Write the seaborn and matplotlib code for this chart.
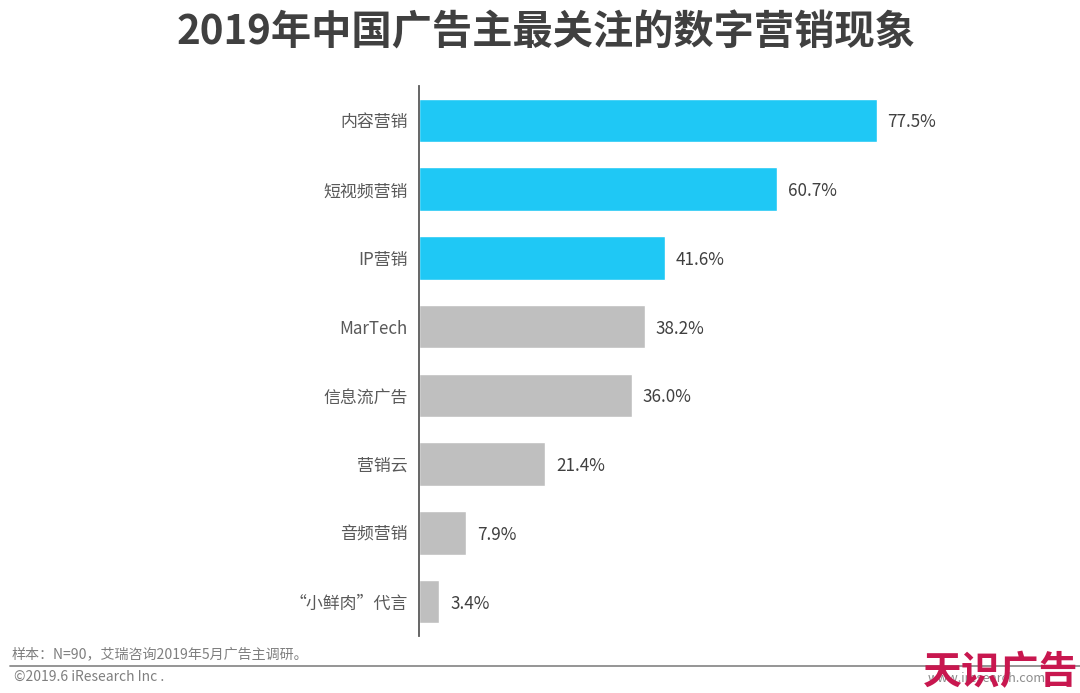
import matplotlib
matplotlib.use('Agg')
import matplotlib.pyplot as plt
import seaborn as sns
import pandas as pd

categorias = ['内容营销', '短视频营销', 'IP营销', 'MarTech', '信息流广告', '营销云', '音频营销', '“小鲜肉”代言']
valores = [77.5, 60.7, 41.6, 38.2, 36.0, 21.4, 7.9, 3.4]
rotulos = ['77.5%', '60.7%', '41.6%', '38.2%', '36.0%', '21.4%', '7.9%', '3.4%']
cores = ['#1FC8F5', '#1FC8F5', '#1FC8F5', '#BFBFBF', '#BFBFBF', '#BFBFBF', '#BFBFBF', '#BFBFBF']

titulo = '2019年中国广告主最关注的数字营销现象'
nota = '样本：N=90，艾瑞咨询2019年5月广告主调研。'
copyright_txt = '©2019.6 iResearch Inc .'

sns.set_theme(style='white')
plt.rcParams['font.family'] = ['Noto Sans CJK SC', 'DejaVu Sans']

W, H = 1080, 693
df = pd.DataFrame({'categoria': categorias, 'valor': valores})

fig = plt.figure(figsize=(W / 100, H / 100), dpi=100)
ax = fig.add_axes([419 / W, 1 - 636 / H, 581 / W, 550 / H])

sns.barplot(data=df, x='valor', y='categoria', hue='categoria', palette=cores,
            legend=False, width=0.635, saturation=1, ax=ax)
ax.set_xlim(0, 98.4)
ax.set_ylim(7.5, -0.5)
ax.set_xlabel('')
ax.set_ylabel('')
ax.set_xticks([])
for lado in ['top', 'right', 'bottom']:
    ax.spines[lado].set_visible(False)
ax.spines['left'].set_color('#595959')
ax.spines['left'].set_linewidth(1.3)
ax.tick_params(axis='y', length=0, pad=8, labelsize=12.2, labelcolor='#595959')

# rotulos das barras
for i, v in enumerate(valores):
    ax.annotate(rotulos[i], (v, i), xytext=(11, -2), textcoords='offset pixels',
                va='center', ha='left', fontsize=12.3, color='#404040')

fig.text(546.5 / W, 1 - 33 / H, titulo, ha='center', va='center', fontsize=29,
         fontweight='bold', color='#404040')
fig.text(12 / W, 1 - 654 / H, nota, ha='left', va='center', fontsize=10.1, color='#7F7F7F')
fig.text(14 / W, 1 - 677 / H, copyright_txt, ha='left', va='center', fontsize=10, color='#7F7F7F')
fig.add_artist(plt.Line2D([10 / W, 1], [1 - 666 / H, 1 - 666 / H], color='#8C8C8C', lw=1.3))

# marca d'agua
fig.text(928 / W, 1 - 678 / H, 'www.iresearch.com', ha='left', va='center', fontsize=9.2, color='#8C8C8C')
fig.text(1001 / W, 1 - 673 / H, '天识广告', ha='center', va='center', fontsize=28,
         fontweight='bold', color='#C8174F')

fig.savefig('out.png', dpi=100, facecolor='white')
